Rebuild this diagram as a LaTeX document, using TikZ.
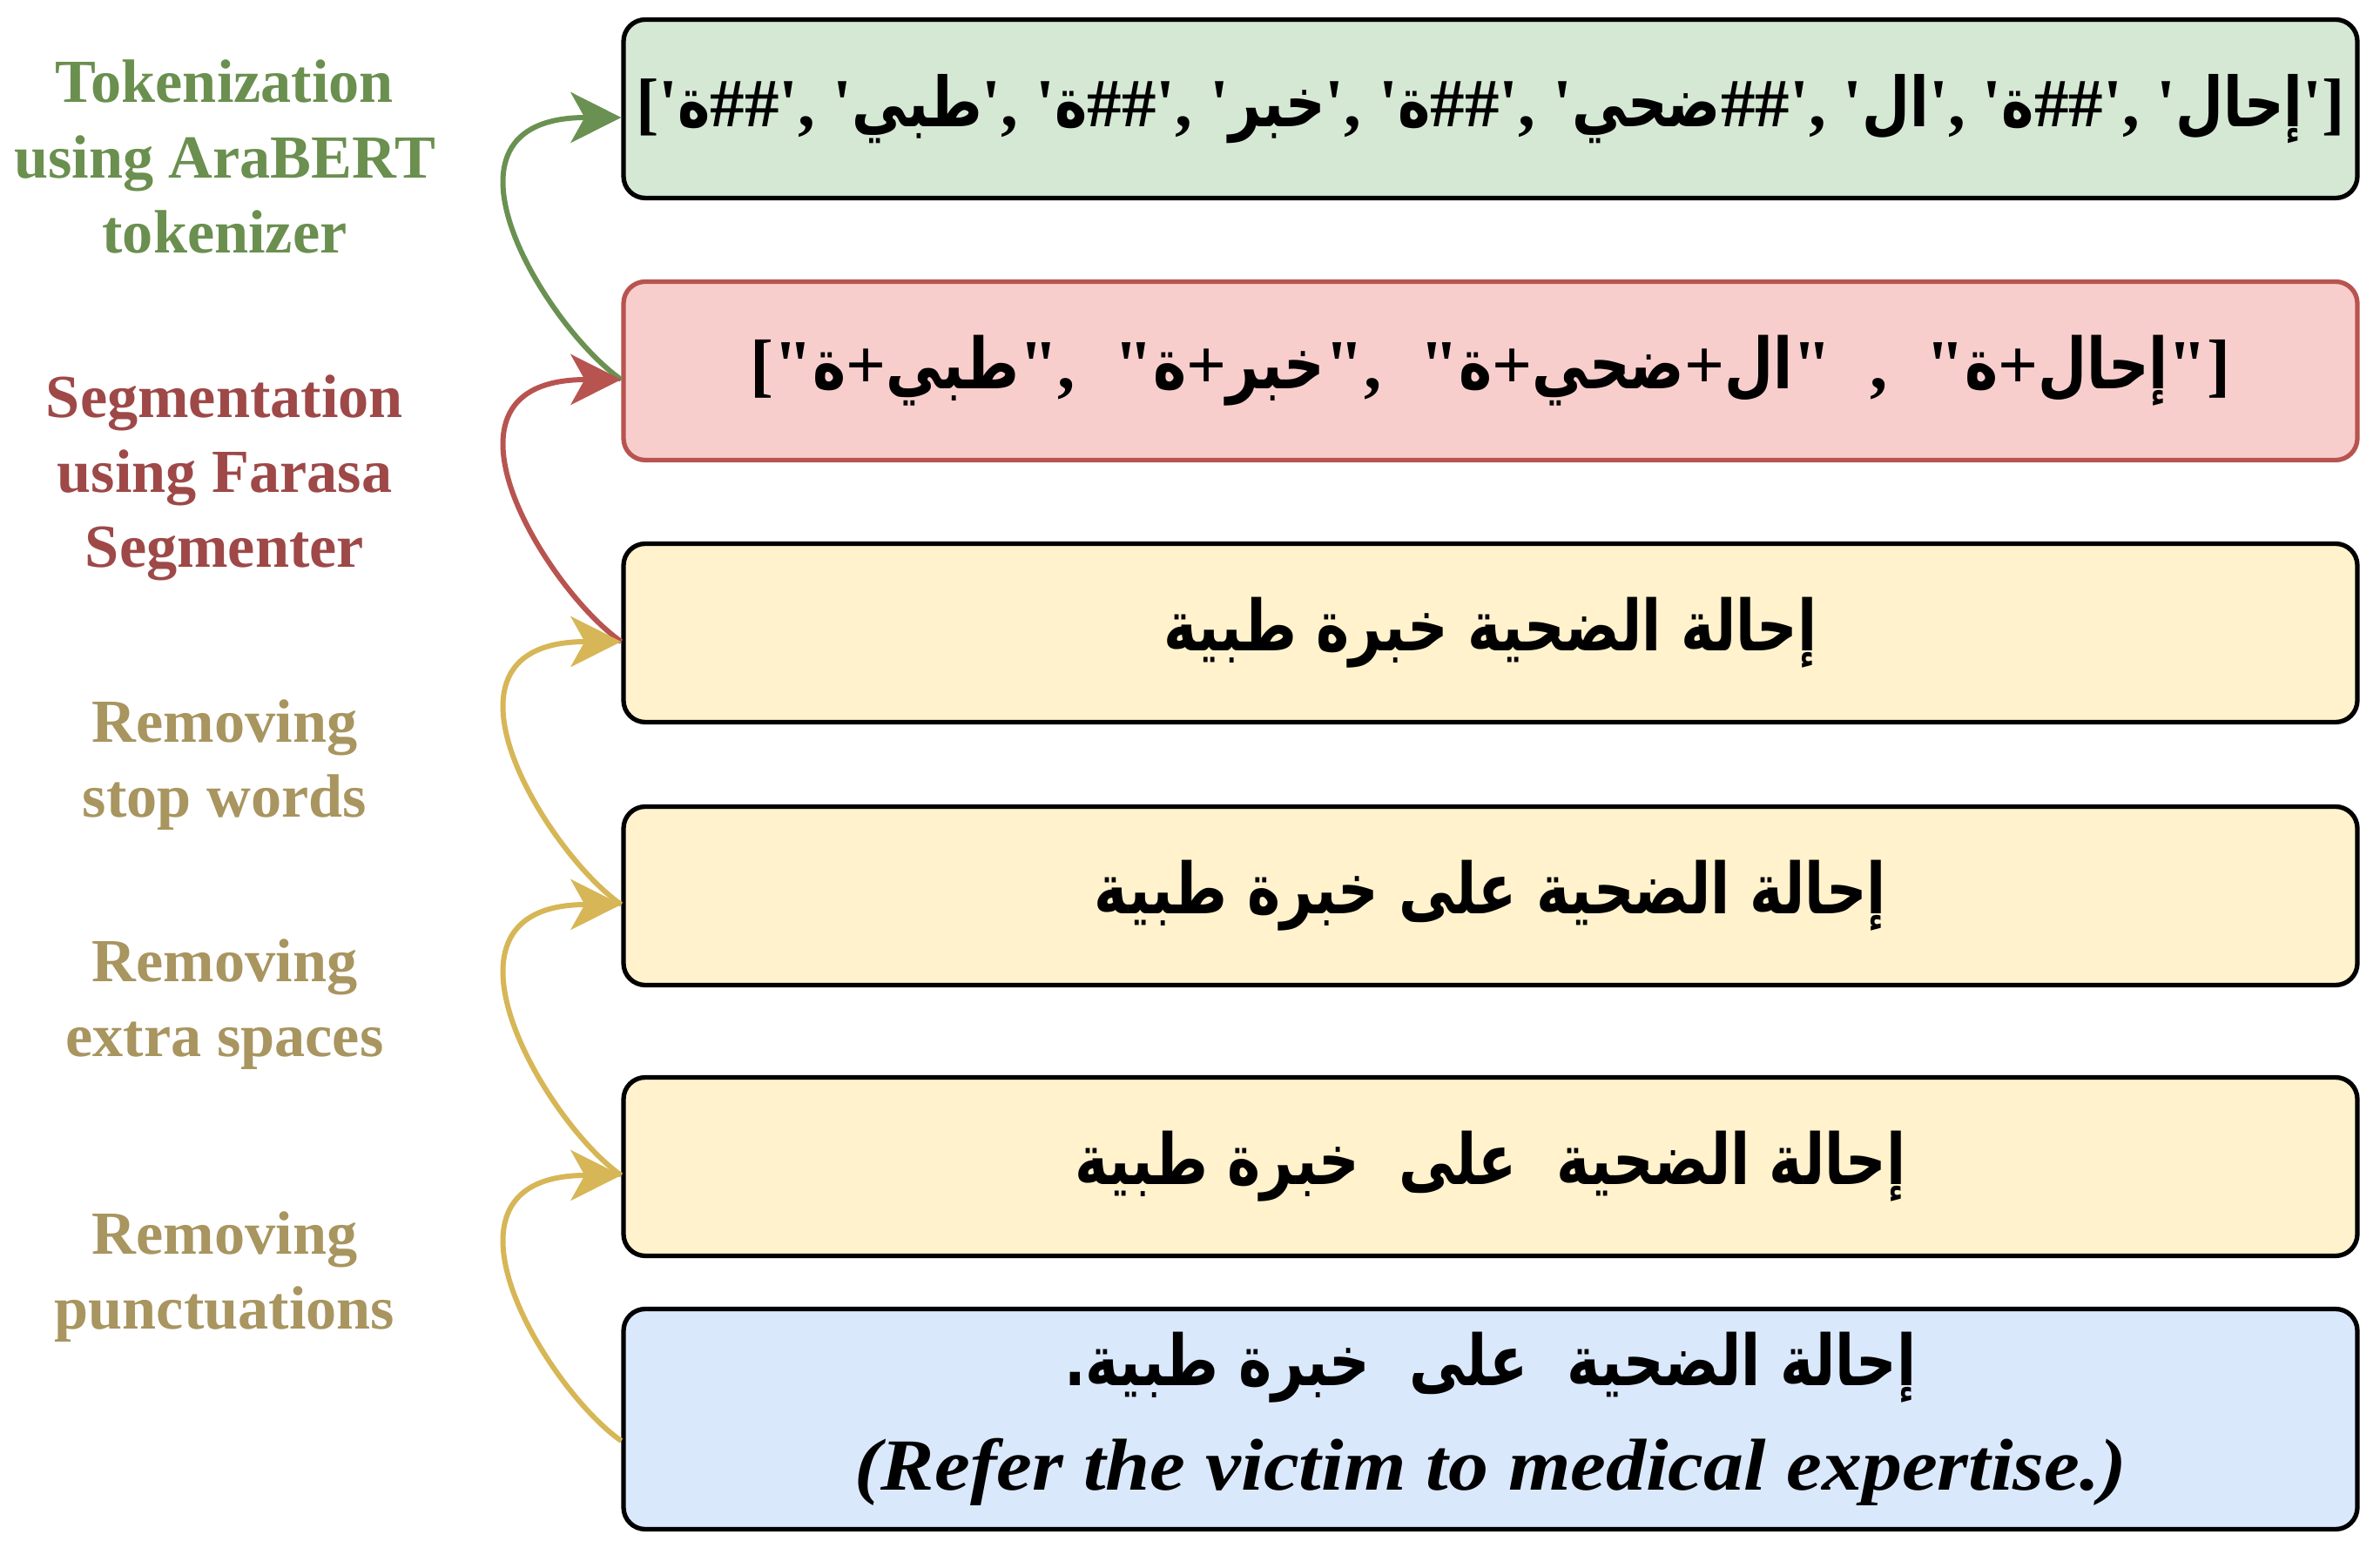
\documentclass[tikz,border=0pt]{standalone}
\usepackage{fontspec}
\setmainfont{Liberation Serif}
\newfontfamily\arabicfont[Script=Arabic,FakeStretch=0.8]{DejaVu Sans}
\newfontfamily\engfont[FakeStretch=1.09]{Liberation Serif}
\TeXXeTstate=1
\usetikzlibrary{arrows.meta}
\definecolor{greenfill}{HTML}{D5E8D4}
\definecolor{redfill}{HTML}{F8CECC}
\definecolor{yellowfill}{HTML}{FFF2CC}
\definecolor{bluefill}{HTML}{DAE8FC}
\definecolor{redline}{HTML}{B85450}
\definecolor{arrowgreen}{HTML}{6A9152}
\definecolor{arrowyellow}{HTML}{D6B656}
\definecolor{labelgreen}{HTML}{6A8F4F}
\definecolor{labelred}{HTML}{9E4848}
\definecolor{labeltan}{HTML}{A8955F}
\newcommand\ar[1]{\mbox{\arabicfont\bfseries #1}}
\newcommand\sq{\textquotesingle}
\newcommand\dq{\textquotedbl}
\newcommand\gap{\hspace{0.44cm}}
\begin{document}
\begin{tikzpicture}[box/.style={draw, line width=1.5pt, rounded corners=0.25cm, minimum width=19.91cm, minimum height=2.05cm, inner sep=0pt, font={\fontsize{23pt}{34pt}\selectfont\bfseries}, align=center},
steplabel/.style={font={\fontsize{20pt}{24.5pt}\selectfont\bfseries}, align=center, inner sep=0pt},
flow/.style={line width=1.7pt, -{Stealth[length=0.58cm, width=0.58cm, inset=0.16cm]}}]
\useasboundingbox (0,0) rectangle (27.33,17.70);
\node[box, fill=greenfill, font={\fontsize{22.5pt}{27pt}\selectfont\bfseries}] (tokens) at (17.115,16.45) {[\sq\ar{ة}\#\#\sq, \sq\ar{طبي}\sq, \sq\ar{ة}\#\#\sq, \sq\ar{خبر}\sq, \sq\ar{ة}\#\#\sq, \sq\ar{ضحي}\#\#\sq, \sq\ar{ال}\sq, \sq\ar{ة}\#\#\sq, \sq\ar{إحال}\sq]};
\node[box, fill=redfill, draw=redline] (segments) at (17.115,13.44) {[\dq\ar{ة}+\ar{طبي}\dq,\gap\dq\ar{ة}+\ar{خبر}\dq,\gap\dq\ar{ة}+\ar{ضحي}+\ar{ال}\dq\gap,\gap\dq\ar{ة}+\ar{إحال}\dq]};
\node[box, fill=yellowfill] (nostop) at (17.115,10.43) {{\arabicfont\beginR إحالة الضحية خبرة طبية\endR}};
\node[box, fill=yellowfill] (nospace) at (17.115,7.41) {{\arabicfont\beginR إحالة الضحية على خبرة طبية\endR}};
\node[box, fill=yellowfill] (nopunct) at (17.115,4.30) {{\arabicfont\beginR إحالة الضحية\ \ على\ \ خبرة طبية\endR}};
\node[box, fill=bluefill, minimum height=2.53cm] (raw) at (17.115,1.40) {{\arabicfont\beginR إحالة الضحية\ \ على\ \ خبرة طبية\mbox{.}\endR}\\{\engfont\itshape\fontsize{24pt}{34pt}\selectfont (Refer the victim to medical expertise.)}};
\node[steplabel, text=labelgreen] (tok) at (2.58,15.90) {Tokenization\\using AraBERT\\tokenizer};
\node[steplabel, text=labelred] (seg) at (2.58,12.21) {Segmentation\\using Farasa\\Segmenter};
\node[steplabel, text=labeltan] (stop) at (2.58,8.91) {Removing\\stop words};
\node[steplabel, text=labeltan] (space) at (2.58,6.165) {Removing\\extra spaces};
\node[steplabel, text=labeltan] (punct) at (2.58,3.03) {Removing\\punctuations};
\draw[flow, arrowgreen] ([yshift=-1mm]segments.west) .. controls +(145:1.05) and +(180:2.35) .. ([yshift=-1mm]tokens.west);
\draw[flow, redline] ([yshift=-1mm]nostop.west) .. controls +(145:1.05) and +(180:2.35) .. ([yshift=-1mm]segments.west);
\draw[flow, arrowyellow] ([yshift=-1mm]nospace.west) .. controls +(145:1.05) and +(180:2.35) .. ([yshift=-1mm]nostop.west);
\draw[flow, arrowyellow] ([yshift=-1mm]nopunct.west) .. controls +(145:1.05) and +(180:2.35) .. ([yshift=-1mm]nospace.west);
\draw[flow, arrowyellow] ([yshift=-2.5mm]raw.west) .. controls +(145:1.05) and +(180:2.35) .. ([yshift=-1mm]nopunct.west);
\end{tikzpicture}
\end{document}
